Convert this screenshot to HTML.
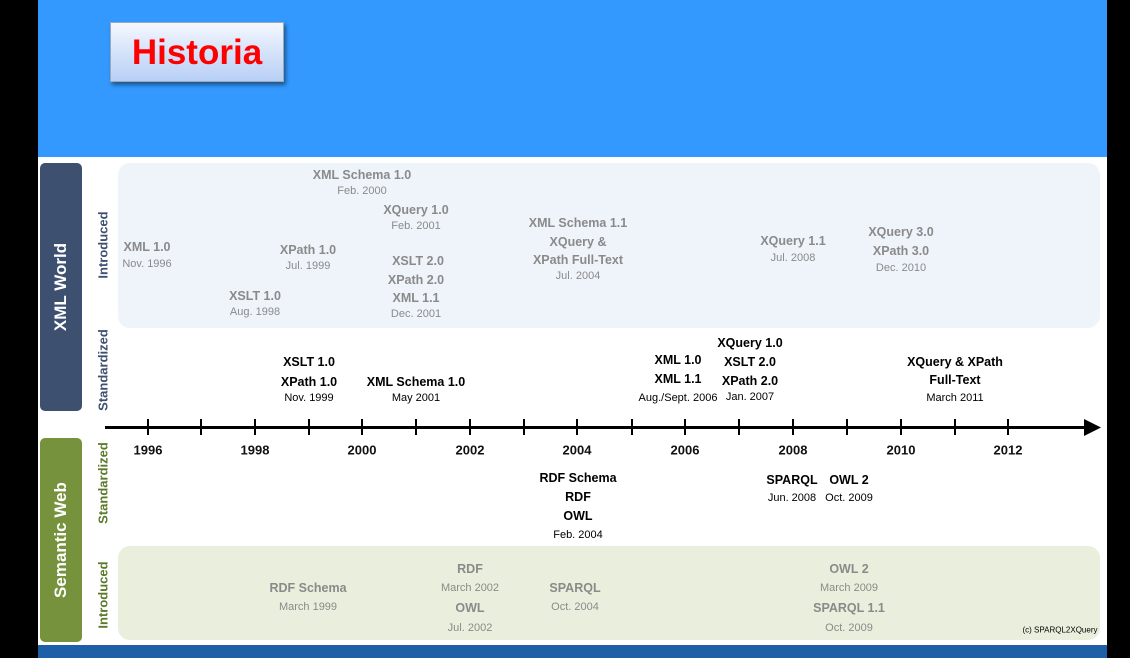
<!DOCTYPE html>
<html><head><meta charset="utf-8"><style>
body{margin:0;width:1130px;height:658px;background:#000;position:relative;overflow:hidden;font-family:"Liberation Sans",sans-serif}
#hdr{position:absolute;left:38px;top:0;width:1069px;height:157px;background:#3399ff}
#main{position:absolute;left:38px;top:157px;width:1069px;height:488px;background:#fff}
#foot{position:absolute;left:38px;top:645px;width:1069px;height:13px;background:#1f5fa8}
#title{position:absolute;left:110px;top:22px;width:174px;height:60px;background:linear-gradient(#f4f7ff,#b8cff5);box-shadow:2px 3px 4px rgba(0,0,0,.45);border:1px solid #9ab;color:#f00;font-weight:bold;font-size:35px;text-align:center;line-height:60px;box-sizing:border-box}
.p{position:absolute;border-radius:12px}
.tab{position:absolute;border-radius:5px;color:#fff;font-weight:bold;font-size:17px}
.v{position:absolute;transform:translate(-50%,-50%) rotate(-90deg);white-space:nowrap;font-weight:bold}
.b,.d{position:absolute;transform:translate(-50%,-50%);white-space:nowrap}
.b{font-weight:bold;font-size:12.5px}
.d{font-size:11px}
.g{color:#8a8a8a}
.k{color:#000}
.y{position:absolute;transform:translate(-50%,-50%);font-size:13px;font-weight:bold;color:#111}
.tk{position:absolute;top:419px;width:2px;height:16px;background:#000}
</style></head><body>
<div id="hdr"></div><div id="main"></div><div id="foot"></div>
<div id="title">Historia</div>
<div class="p" style="left:118px;top:163px;width:982px;height:165px;background:#eff3fa"></div>
<div class="p" style="left:118px;top:546px;width:982px;height:94px;background:#e9efdc"></div>
<div class="tab" style="left:40px;top:163px;width:42px;height:248px;background:#3d5070"></div>
<div class="tab" style="left:40px;top:438px;width:42px;height:204px;background:#76923c"></div>
<div class="v" style="left:61px;top:287px;color:#fff;font-size:17px">XML World</div>
<div class="v" style="left:61px;top:540px;color:#fff;font-size:17px">Semantic Web</div>
<div class="v" style="left:103px;top:245px;color:#3d5070;font-size:13px">Introduced</div>
<div class="v" style="left:103px;top:370px;color:#3d5070;font-size:13px">Standardized</div>
<div class="v" style="left:103px;top:483px;color:#5a7a2a;font-size:13px">Standardized</div>
<div class="v" style="left:103px;top:595px;color:#5a7a2a;font-size:13px">Introduced</div>
<div style="position:absolute;left:105px;top:426px;width:985px;height:3px;background:#000"></div>
<svg style="position:absolute;left:1084px;top:419px" width="18" height="17"><polygon points="0,0 17,8.5 0,17" fill="#000"/></svg>
<div class="tk" style="left:147px"></div><div class="tk" style="left:200px"></div><div class="tk" style="left:254px"></div><div class="tk" style="left:308px"></div><div class="tk" style="left:361px"></div><div class="tk" style="left:415px"></div><div class="tk" style="left:469px"></div><div class="tk" style="left:523px"></div><div class="tk" style="left:576px"></div><div class="tk" style="left:631px"></div><div class="tk" style="left:684px"></div><div class="tk" style="left:738px"></div><div class="tk" style="left:792px"></div><div class="tk" style="left:846px"></div><div class="tk" style="left:900px"></div><div class="tk" style="left:954px"></div><div class="tk" style="left:1007px"></div>
<div class="y" style="left:148px;top:450px">1996</div><div class="y" style="left:255px;top:450px">1998</div><div class="y" style="left:362px;top:450px">2000</div><div class="y" style="left:470px;top:450px">2002</div><div class="y" style="left:577px;top:450px">2004</div><div class="y" style="left:685px;top:450px">2006</div><div class="y" style="left:793px;top:450px">2008</div><div class="y" style="left:901px;top:450px">2010</div><div class="y" style="left:1008px;top:450px">2012</div>

<div class="b g" style="left:147px;top:247px">XML 1.0</div><div class="d g" style="left:147px;top:264px">Nov. 1996</div>
<div class="b g" style="left:255px;top:296px">XSLT 1.0</div><div class="d g" style="left:255px;top:312px">Aug. 1998</div>
<div class="b g" style="left:308px;top:250px">XPath 1.0</div><div class="d g" style="left:308px;top:266px">Jul. 1999</div>
<div class="b g" style="left:362px;top:175px">XML Schema 1.0</div><div class="d g" style="left:362px;top:191px">Feb. 2000</div>
<div class="b g" style="left:416px;top:210px">XQuery 1.0</div><div class="d g" style="left:416px;top:226px">Feb. 2001</div>
<div class="b g" style="left:418px;top:261px">XSLT 2.0</div><div class="b g" style="left:416px;top:280px">XPath 2.0</div><div class="b g" style="left:416px;top:298px">XML 1.1</div><div class="d g" style="left:416px;top:314px">Dec. 2001</div>
<div class="b g" style="left:578px;top:223px">XML Schema 1.1</div><div class="b g" style="left:578px;top:242px">XQuery &amp;</div><div class="b g" style="left:578px;top:260px">XPath Full-Text</div><div class="d g" style="left:578px;top:276px">Jul. 2004</div>
<div class="b g" style="left:793px;top:241px">XQuery 1.1</div><div class="d g" style="left:793px;top:258px">Jul. 2008</div>
<div class="b g" style="left:901px;top:232px">XQuery 3.0</div><div class="b g" style="left:901px;top:251px">XPath 3.0</div><div class="d g" style="left:901px;top:268px">Dec. 2010</div>

<div class="b k" style="left:309px;top:362px">XSLT 1.0</div><div class="b k" style="left:309px;top:382px">XPath 1.0</div><div class="d k" style="left:309px;top:398px">Nov. 1999</div>
<div class="b k" style="left:416px;top:382px">XML Schema 1.0</div><div class="d k" style="left:416px;top:398px">May 2001</div>
<div class="b k" style="left:678px;top:360px">XML 1.0</div><div class="b k" style="left:678px;top:379px">XML 1.1</div><div class="d k" style="left:678px;top:398px">Aug./Sept. 2006</div>
<div class="b k" style="left:750px;top:343px">XQuery 1.0</div><div class="b k" style="left:750px;top:362px">XSLT 2.0</div><div class="b k" style="left:750px;top:381px">XPath 2.0</div><div class="d k" style="left:750px;top:397px">Jan. 2007</div>
<div class="b k" style="left:955px;top:362px">XQuery &amp; XPath</div><div class="b k" style="left:955px;top:380px">Full-Text</div><div class="d k" style="left:955px;top:398px">March 2011</div>

<div class="b k" style="left:578px;top:478px">RDF Schema</div><div class="b k" style="left:578px;top:497px">RDF</div><div class="b k" style="left:578px;top:516px">OWL</div><div class="d k" style="left:578px;top:535px">Feb. 2004</div>
<div class="b k" style="left:792px;top:480px">SPARQL</div><div class="d k" style="left:792px;top:498px">Jun. 2008</div>
<div class="b k" style="left:849px;top:480px">OWL 2</div><div class="d k" style="left:849px;top:498px">Oct. 2009</div>

<div class="b g" style="left:308px;top:588px">RDF Schema</div><div class="d g" style="left:308px;top:607px">March 1999</div>
<div class="b g" style="left:470px;top:569px">RDF</div><div class="d g" style="left:470px;top:588px">March 2002</div><div class="b g" style="left:470px;top:608px">OWL</div><div class="d g" style="left:470px;top:628px">Jul. 2002</div>
<div class="b g" style="left:575px;top:588px">SPARQL</div><div class="d g" style="left:575px;top:607px">Oct. 2004</div>
<div class="b g" style="left:849px;top:569px">OWL 2</div><div class="d g" style="left:849px;top:588px">March 2009</div><div class="b g" style="left:849px;top:608px">SPARQL 1.1</div><div class="d g" style="left:849px;top:628px">Oct. 2009</div>
<div class="d k" style="left:1060px;top:630px;font-size:8px">(c) SPARQL2XQuery</div>
</body></html>
